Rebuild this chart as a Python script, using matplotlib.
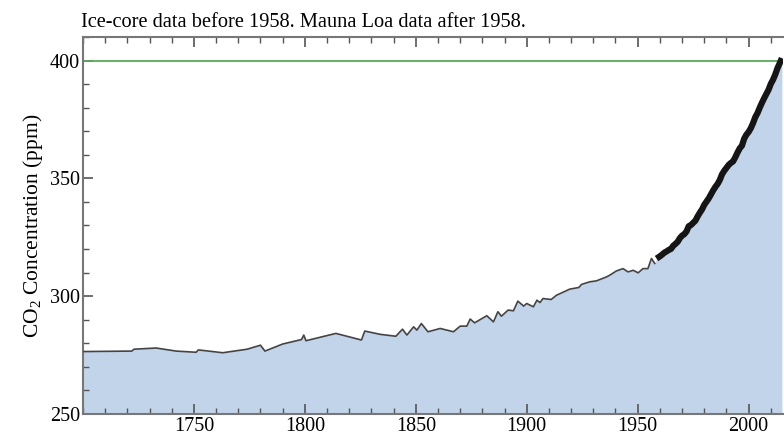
import matplotlib
matplotlib.use("Agg")
import matplotlib.pyplot as plt
from matplotlib.ticker import MultipleLocator

# Ice-core record
ice_years = [1700, 1722, 1723, 1733, 1742, 1751, 1752, 1763, 1774, 1780, 1782, 1790,
             1798.5, 1799.5, 1800.5, 1814, 1825.5, 1827, 1834, 1841, 1844, 1846, 1849,
             1850.5, 1852.5, 1855.5, 1861, 1867, 1870, 1873, 1874.5, 1876.5, 1882, 1885,
             1887, 1888.6, 1891.6, 1894, 1896, 1898.6, 1900, 1903, 1904.6, 1906, 1907.3,
             1911, 1913.4, 1919.4, 1923.5, 1924.7, 1928.4, 1931.4, 1936, 1937.4, 1940.4,
             1943.4, 1945.7, 1948, 1950.2, 1952.4, 1954.6, 1956.2, 1957.7]
ice_ppm = [276.5, 276.7, 277.5, 278.0, 276.7, 276.2, 277.2, 276.0, 277.5, 279.2, 276.7, 279.7,
           281.6, 283.5, 281.1, 284.2, 281.4, 285.2, 283.8, 283.0, 286.0, 283.5, 287.0,
           285.6, 288.4, 284.9, 286.3, 284.9, 287.3, 287.3, 290.3, 288.7, 291.7, 289.1,
           293.4, 291.5, 294.1, 293.8, 297.9, 295.8, 296.9, 295.5, 298.3, 297.3, 299.0,
           298.6, 300.4, 303.0, 303.7, 305.0, 306.1, 306.5, 308.2, 308.9, 310.7,
           311.7, 310.3, 311.0, 309.9, 311.7, 311.7, 316.0, 313.9]

# Mauna Loa annual means
ml_years = [1958.5] + list(range(1960, 2016))
ml_ppm = [315.97, 316.91, 317.64, 318.45, 318.99, 319.62, 320.04, 321.37, 322.18, 323.05,
          324.62, 325.68, 326.32, 327.46, 329.68, 330.19, 331.13, 332.03, 333.84, 335.41,
          336.84, 338.76, 340.12, 341.48, 343.15, 344.85, 346.35, 347.61, 349.31, 351.69,
          353.20, 354.45, 355.70, 356.54, 357.21, 358.96, 360.97, 362.74, 363.88, 366.84,
          368.54, 369.71, 371.32, 373.45, 375.98, 377.70, 379.98, 382.09, 384.02, 385.83,
          387.64, 390.10, 391.85, 394.06, 396.74, 398.81, 401.01]

ref_level = 400
x_ticks = [1750, 1800, 1850, 1900, 1950, 2000]
y_ticks = [250, 300, 350, 400]
title = "Ice-core data before 1958. Mauna Loa data after 1958."
ylabel = "CO$_2$ Concentration (ppm)"

plt.rcParams['font.family'] = ['Liberation Serif', 'DejaVu Serif']
plt.rcParams['mathtext.fontset'] = 'custom'
plt.rcParams['mathtext.rm'] = 'Liberation Serif'

fig = plt.figure(figsize=(7.84, 4.38), dpi=100)
ax = fig.add_axes([83/784, 1 - 414/438, 700/784, (414 - 37)/438])

all_x = ice_years + ml_years
all_y = ice_ppm + ml_ppm
ax.fill_between(all_x, 250, all_y, color='#c2d4e9', lw=0, zorder=1)
ax.plot(ice_years, ice_ppm, color='#444444', lw=1.2, zorder=3)
ax.plot(ml_years, ml_ppm, color='#151515', lw=4.5, solid_capstyle='butt', zorder=3)
ax.axhline(ref_level, color='#5aaa5a', lw=1.3, zorder=2)

ax.set_xlim(1700, 2015.5)
ax.set_ylim(250, 410)
ax.set_xticks(x_ticks)
ax.set_yticks(y_ticks)
ax.xaxis.set_minor_locator(MultipleLocator(10))
ax.yaxis.set_minor_locator(MultipleLocator(10))
ax.tick_params(axis='both', which='both', direction='in', color='#555555', labelsize=14.5)
ax.tick_params(axis='x', which='both', top=True, bottom=True, pad=2.5)
ax.tick_params(axis='y', which='both', left=True, right=False, pad=2)
ax.tick_params(which='major', length=7, width=1.2)
ax.tick_params(which='minor', length=4, width=1.0)
for s in ['left', 'top', 'bottom']:
    ax.spines[s].set_color('#777777')
    ax.spines[s].set_linewidth(1.5)
ax.spines['right'].set_visible(False)

ax.set_ylabel(ylabel, fontsize=15.5, labelpad=4)
ax.text(-0.003, 1.012, title, transform=ax.transAxes, fontsize=14.7, ha='left', va='bottom')

fig.savefig('out.png', dpi=100)
